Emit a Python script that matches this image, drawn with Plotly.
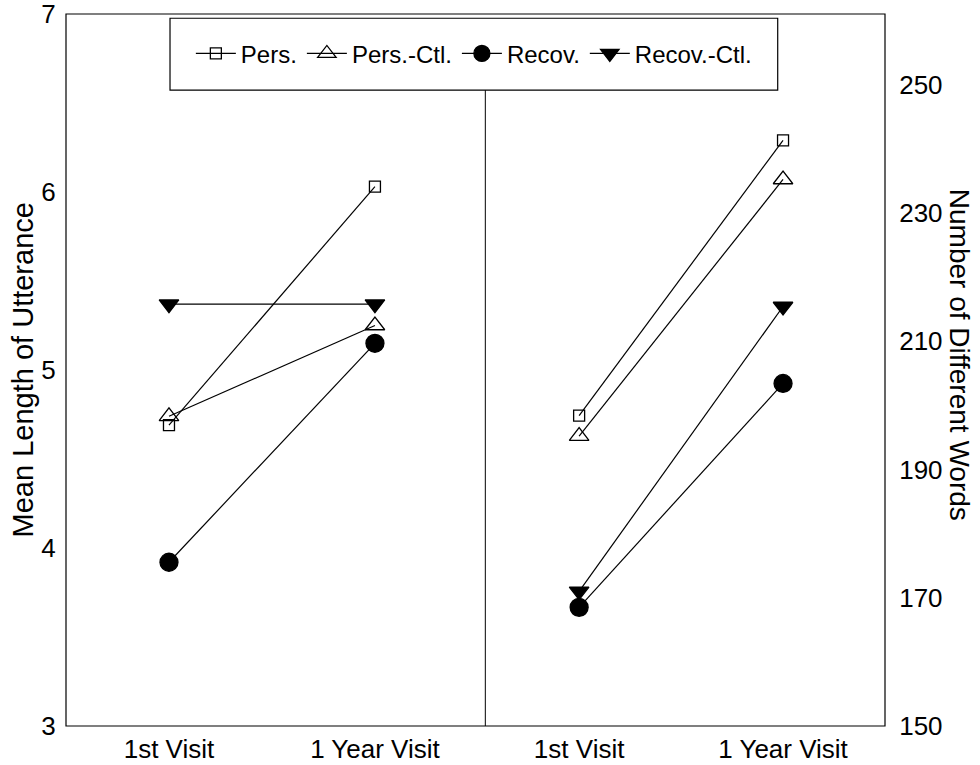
import plotly.graph_objects as go

# dados
visits = ["1st Visit", "1 Year Visit"]
groups = ["Pers.", "Pers.-Ctl.", "Recov.", "Recov.-Ctl."]

mlu = {
    "Pers.": [4.69, 6.03],
    "Pers.-Ctl.": [4.74, 5.25],
    "Recov.": [3.92, 5.15],
    "Recov.-Ctl.": [5.37, 5.37],
}
words = {
    "Pers.": [198.4, 241.3],
    "Pers.-Ctl.": [195.2, 235.2],
    "Recov.": [168.5, 203.4],
    "Recov.-Ctl.": [171.0, 215.4],
}

left_ticks = [3, 4, 5, 6, 7]
right_ticks = [150, 170, 190, 210, 230, 250]

markers = {
    "Pers.": dict(symbol="square-open", size=11),
    "Pers.-Ctl.": dict(symbol="triangle-up-open", size=17),
    "Recov.": dict(symbol="circle", size=18),
    "Recov.-Ctl.": dict(symbol="triangle-down", size=17),
}

FONT = "Liberation Sans, Arial, sans-serif"

fig = go.Figure()

for g in groups:
    fig.add_trace(go.Scatter(
        x=visits, y=mlu[g], name=g, mode="lines+markers",
        line=dict(color="black", width=1.2),
        marker=dict(color="black", line=dict(color="black", width=1.3), **markers[g]),
        xaxis="x", yaxis="y", legendgroup=g,
    ))
    fig.add_trace(go.Scatter(
        x=visits, y=words[g], name=g, mode="lines+markers",
        line=dict(color="black", width=1.2),
        marker=dict(color="black", line=dict(color="black", width=1.3), **markers[g]),
        xaxis="x2", yaxis="y2", legendgroup=g, showlegend=False,
    ))

split = 0.512

# ticks invisíveis só para afastar os rótulos da moldura
base_axis = dict(showgrid=False, zeroline=False, showline=False, automargin=False,
                 ticks="outside", tickcolor="rgba(0,0,0,0)", ticklabeloverflow="allow")
y_font = dict(size=26, color="black", family=FONT)
x_font = dict(size=26, color="black", family=FONT)

fig.update_layout(
    width=980, height=765,
    margin=dict(l=66, r=95, t=14, b=39),
    plot_bgcolor="white", paper_bgcolor="white",
    font=dict(family=FONT, color="black"),
    xaxis=dict(domain=[0, split], type="category", range=[-0.5, 1.536], ticklen=0,
               tickfont=x_font, **base_axis),
    xaxis2=dict(domain=[split, 1], type="category", range=[-0.46, 1.5], ticklen=0,
                tickfont=x_font, **base_axis),
    yaxis=dict(range=[3, 7], tickvals=left_ticks, anchor="x", ticklen=4,
               tickfont=y_font, **base_axis),
    yaxis2=dict(range=[150, 261], tickvals=right_ticks, anchor="x2", side="right",
                ticklen=8, tickfont=y_font, **base_axis),
    legend=dict(orientation="h", x=0.498, xanchor="center", y=0.944, yanchor="middle",
                font=dict(size=24, color="black", family=FONT),
                bgcolor="rgba(0,0,0,0)", itemwidth=40, tracegroupgap=0),
    showlegend=True,
)

# moldura, divisória e caixa da legenda
fig.add_shape(type="rect", xref="paper", yref="paper", x0=0, x1=1, y0=0, y1=1,
              line=dict(color="black", width=1.2))
fig.add_shape(type="line", xref="paper", yref="paper", x0=split, x1=split, y0=0, y1=0.893,
              line=dict(color="black", width=1))
fig.add_shape(type="rect", xref="paper", yref="paper", x0=0.127, x1=0.869, y0=0.893, y1=0.994,
              line=dict(color="black", width=1.2), fillcolor="white", layer="below")

fig.add_annotation(text="Mean Length of Utterance", xref="paper", yref="paper",
                   x=-0.052, y=0.5, xanchor="center", yanchor="middle", textangle=-90,
                   showarrow=False, font=dict(size=29, color="black", family=FONT))
fig.add_annotation(text="Number of Different Words", xref="paper", yref="paper",
                   x=1.091, y=0.522, xanchor="center", yanchor="middle", textangle=90,
                   showarrow=False, font=dict(size=28, color="black", family=FONT))

# tira a margem padrão do <body> para a figura começar em (0, 0)
fig.write_html("out.html", config={"displayModeBar": False},
               post_script="document.body.style.margin='0';")
